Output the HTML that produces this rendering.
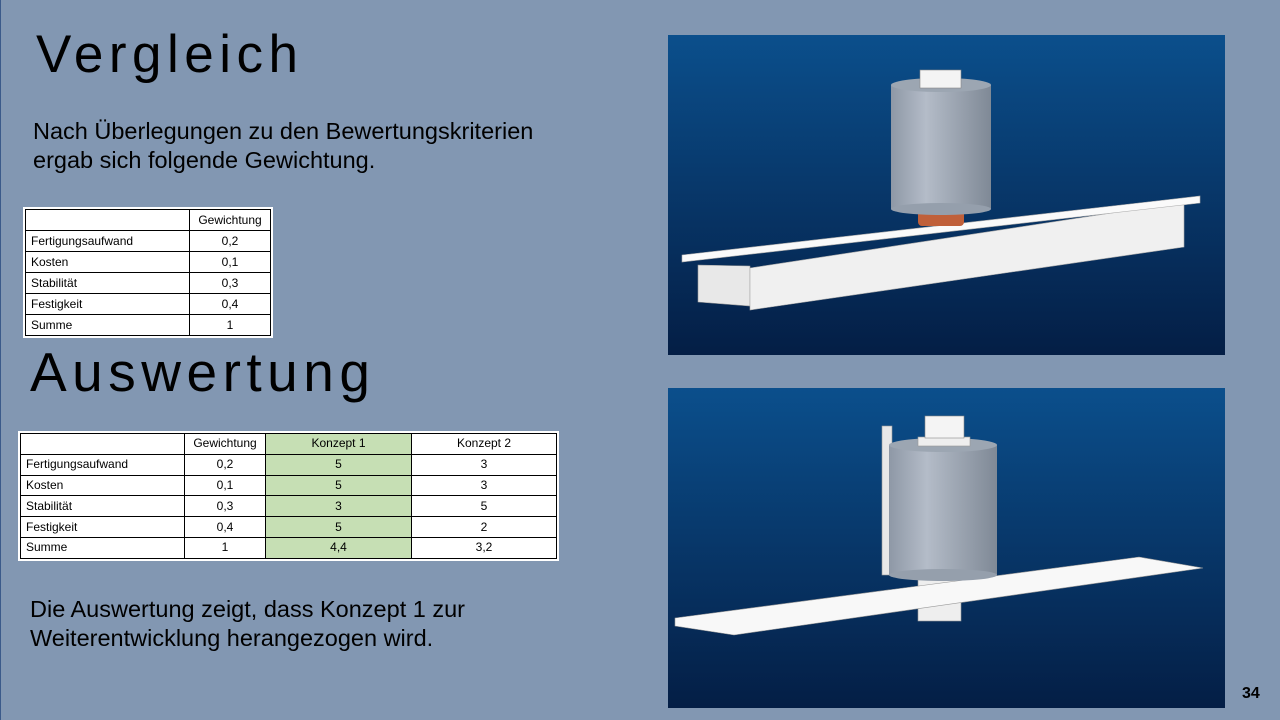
<!DOCTYPE html>
<html><head><meta charset="utf-8"><style>
body{margin:0;width:1280px;height:720px;overflow:hidden;background:#8297b2;font-family:"Liberation Sans",sans-serif;position:relative}
.t{position:absolute;color:#000}
h1{position:absolute;margin:0;font-weight:normal;font-family:"Liberation Sans",sans-serif;color:#000;font-size:53px;letter-spacing:5.5px}
table{position:absolute;border-collapse:collapse;background:#fff;font-size:12px;outline:2px solid #fff}
td{border:1.3px solid #000;padding:0 5px;line-height:19px;text-align:center;white-space:nowrap}
td:first-child{text-align:left}
.g{background:#c6dfb4}
.img{position:absolute;left:668px;width:557px;height:320px}
</style></head><body>
<div style="position:absolute;left:0;top:0;width:1px;height:720px;background:#3b5a8a"></div>
<h1 style="left:36px;top:24px">Vergleich</h1>
<div class="t" style="left:33px;top:117px;font-size:23.5px;line-height:29px">Nach Überlegungen zu den Bewertungskriterien<br>ergab sich folgende Gewichtung.</div>
<table style="left:25px;top:209px;width:246px">
<tr><td style="width:153px;height:20px"></td><td>Gewichtung</td></tr>
<tr><td style="height:20px">Fertigungsaufwand</td><td>0,2</td></tr>
<tr><td style="height:20px">Kosten</td><td>0,1</td></tr>
<tr><td style="height:20px">Stabilität</td><td>0,3</td></tr>
<tr><td style="height:20px">Festigkeit</td><td>0,4</td></tr>
<tr><td style="height:20px">Summe</td><td>1</td></tr>
</table>
<h1 style="left:30px;top:340px;font-size:55px">Auswertung</h1>
<table style="left:20px;top:433px;width:537px">
<tr><td style="width:153px;height:19.8px"></td><td style="width:70px">Gewichtung</td><td class="g" style="width:135px">Konzept 1</td><td>Konzept 2</td></tr>
<tr><td style="height:19.8px">Fertigungsaufwand</td><td>0,2</td><td class="g">5</td><td>3</td></tr>
<tr><td style="height:19.8px">Kosten</td><td>0,1</td><td class="g">5</td><td>3</td></tr>
<tr><td style="height:19.8px">Stabilität</td><td>0,3</td><td class="g">3</td><td>5</td></tr>
<tr><td style="height:19.8px">Festigkeit</td><td>0,4</td><td class="g">5</td><td>2</td></tr>
<tr><td style="height:19.8px">Summe</td><td>1</td><td class="g">4,4</td><td>3,2</td></tr>
</table>
<div class="t" style="left:30px;top:595px;font-size:23.5px;line-height:29px">Die Auswertung zeigt, dass Konzept 1 zur<br>Weiterentwicklung herangezogen wird.</div>
<div class="t" style="left:1242px;top:685px;font-size:16px;font-weight:bold">34</div>

<svg class="img" style="top:35px" viewBox="0 0 557 320">
<defs><linearGradient id="bg" x1="0" y1="0" x2="0" y2="1"><stop offset="0" stop-color="#0b4f8c"/><stop offset="1" stop-color="#041e45"/></linearGradient>
<linearGradient id="cy" x1="0" x2="1"><stop offset="0" stop-color="#8e98a6"/><stop offset="0.35" stop-color="#b4bcc8"/><stop offset="1" stop-color="#7f8996"/></linearGradient></defs>
<rect width="557" height="320" fill="url(#bg)"/>
<polygon points="30,230 82,231 82,271 30,267" fill="#e8e8e8" stroke="#999" stroke-width=".6"/>
<polygon points="82,233 516,167 516,212 82,275" fill="#f0f0f0" stroke="#aaa" stroke-width=".6"/>
<polygon points="14,220 532,161 532,168 14,227" fill="#fafafa" stroke="#aaa" stroke-width=".6"/>
<rect x="250" y="172" width="46" height="19" rx="4" fill="#c0603a"/>
<rect x="223" y="50" width="100" height="124" fill="url(#cy)"/>
<ellipse cx="273" cy="174" rx="50" ry="6" fill="#959fac"/>
<ellipse cx="273" cy="50" rx="50" ry="7" fill="#9ca6b2"/>
<rect x="252" y="35" width="41" height="18" fill="#f4f4f4" stroke="#888" stroke-width=".6"/>
</svg>

<svg class="img" style="top:388px" viewBox="0 0 557 320">
<rect width="557" height="320" fill="url(#bg)"/>
<rect x="214" y="38" width="10" height="149" fill="#e8e8e8" stroke="#999" stroke-width=".6"/>
<rect x="250" y="190" width="43" height="43" fill="#eee" stroke="#999" stroke-width=".6"/>
<polygon points="7,230 471,169 535,180 66,247 7,238" fill="#f8f8f8" stroke="#999" stroke-width=".6"/>
<rect x="221" y="57" width="108" height="130" fill="url(#cy)"/>
<ellipse cx="275" cy="187" rx="54" ry="6" fill="#959fac"/>
<ellipse cx="275" cy="57" rx="54" ry="7" fill="#9ca6b2"/>
<rect x="250" y="49" width="52" height="9" fill="#eee" stroke="#999" stroke-width=".6"/>
<rect x="257" y="28" width="39" height="22" fill="#f4f4f4" stroke="#888" stroke-width=".6"/>
</svg>
</body></html>
